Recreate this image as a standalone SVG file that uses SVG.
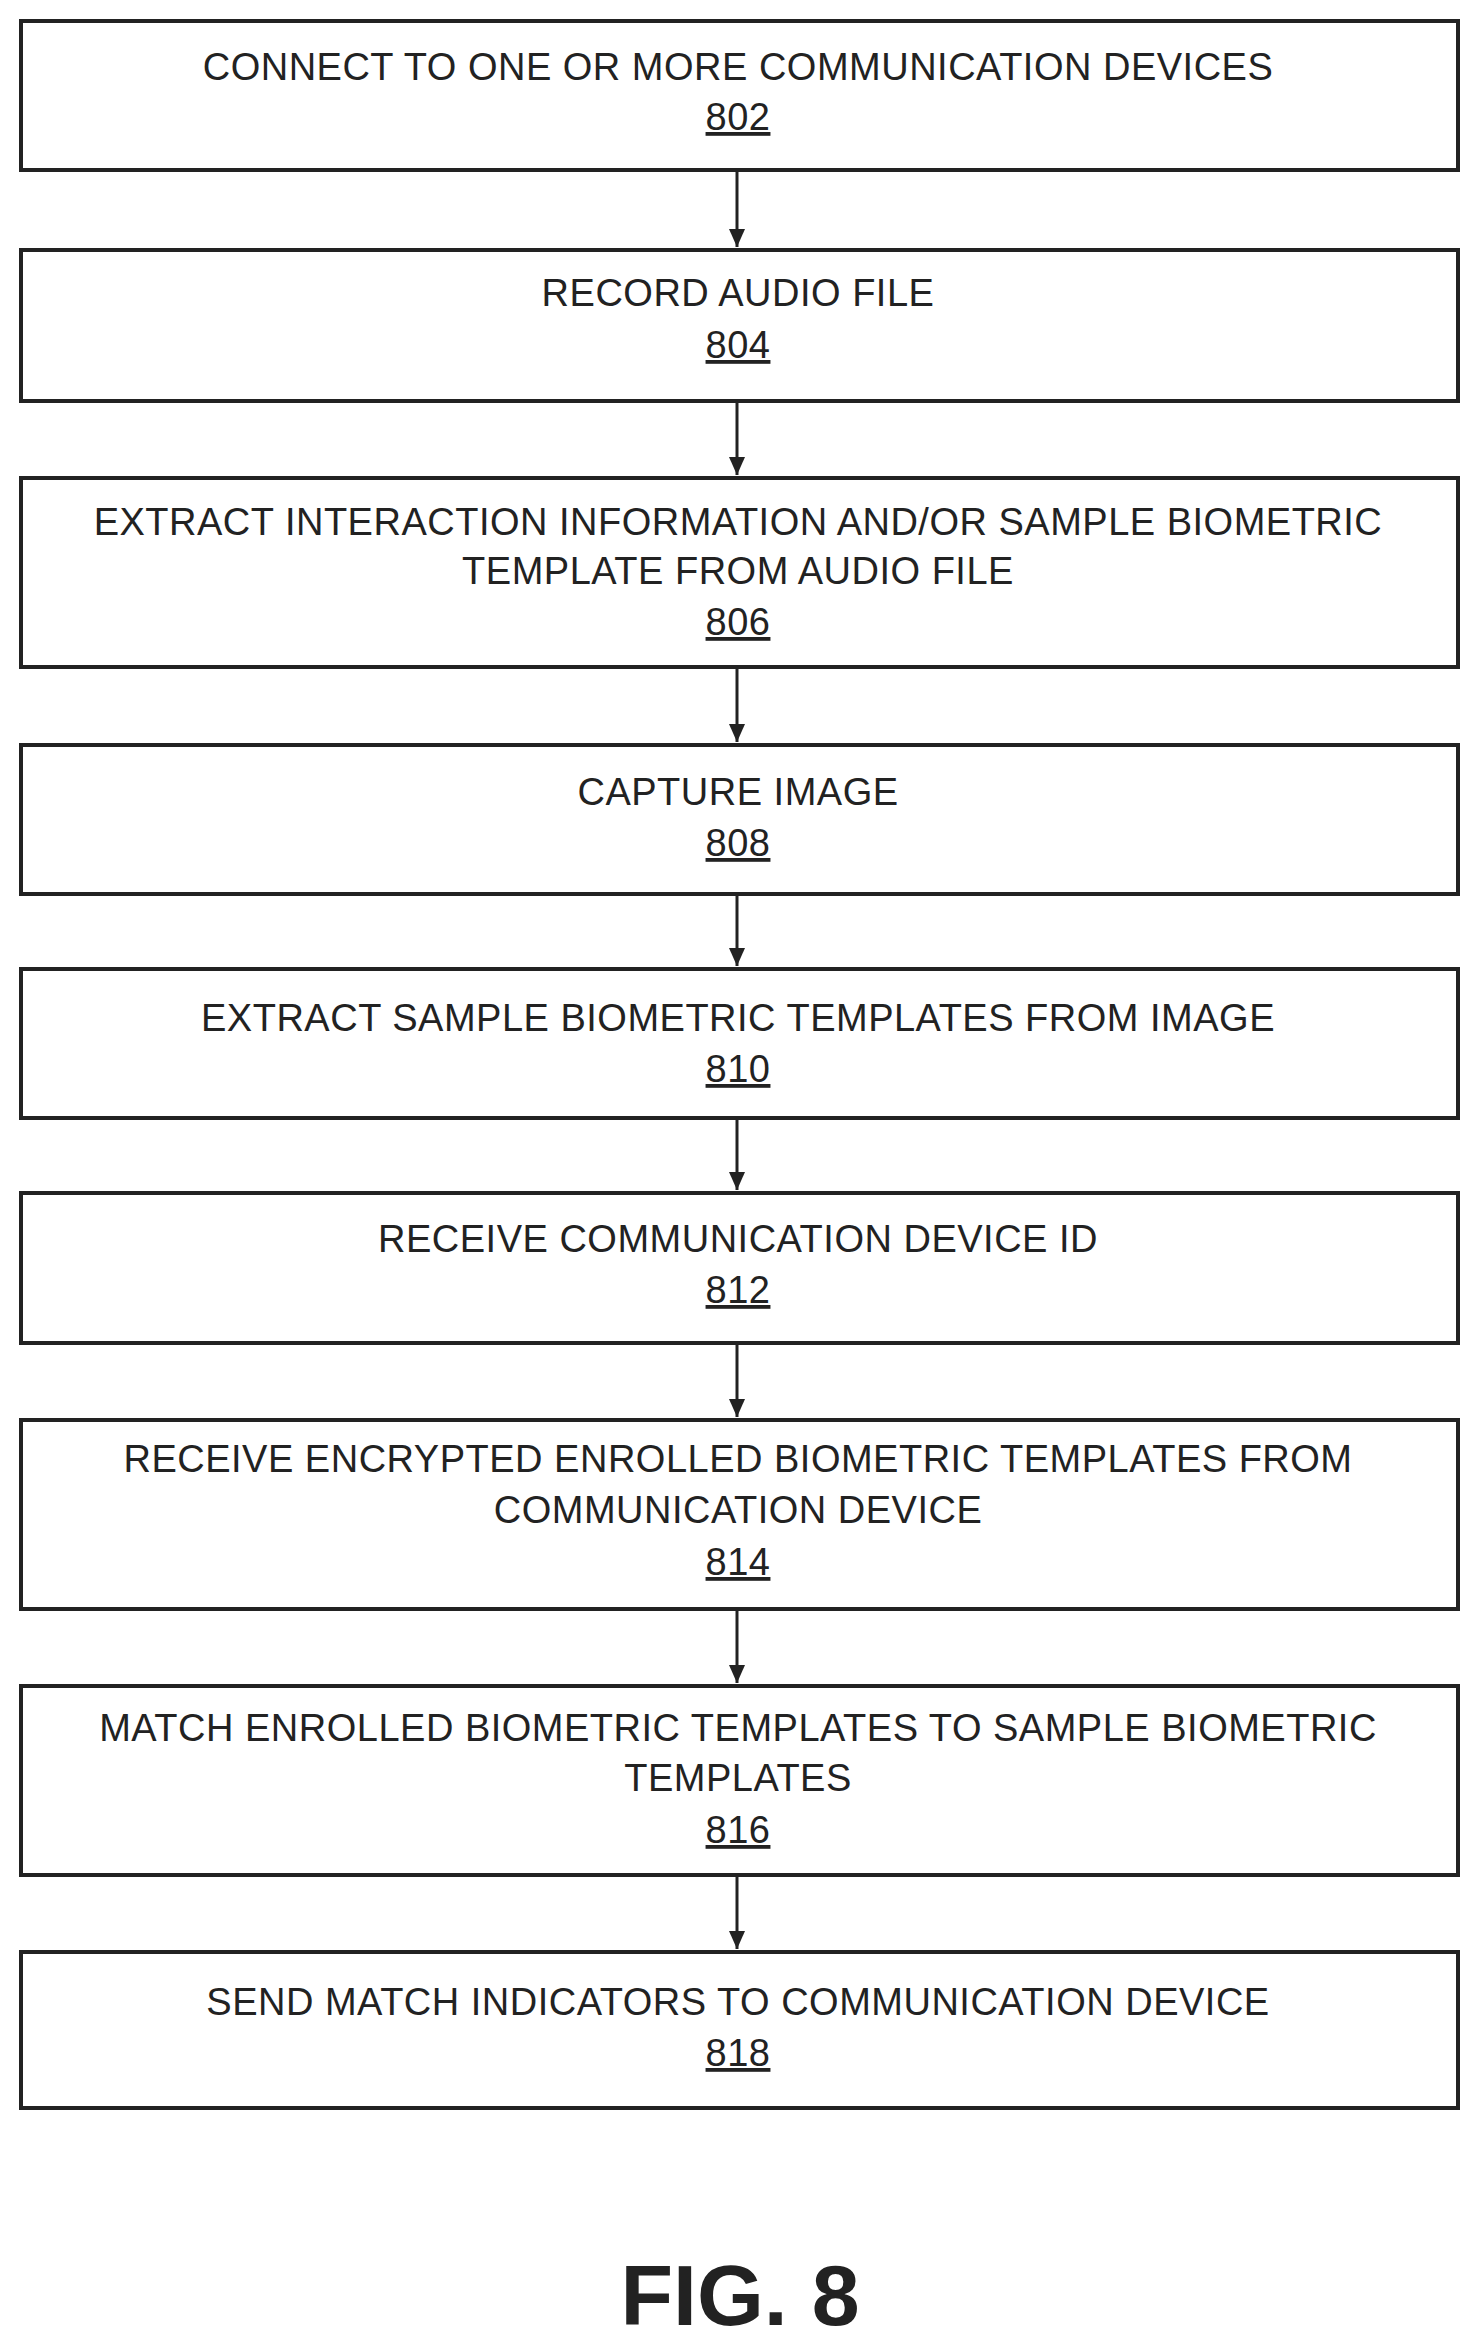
<svg xmlns="http://www.w3.org/2000/svg" width="1480" height="2344" viewBox="0 0 1480 2344">
<style>
.b{fill:#fff;stroke:#222;stroke-width:4}
.t{font-family:"Liberation Sans",Arial,sans-serif;font-size:38px;fill:#222;text-anchor:middle;letter-spacing:0.5px}
.n{text-decoration:underline}
.c{stroke:#222;stroke-width:3;fill:none}
</style>
<defs><marker id="a" markerWidth="20" markerHeight="20" refX="18" refY="10" orient="auto" markerUnits="userSpaceOnUse" viewBox="0 0 20 20"><path d="M0,2L18,10L0,18z" fill="#222"/></marker></defs>
<rect width="1480" height="2344" fill="#fff"/>
<g id="n802"><rect class="b" x="21" y="21" width="1437" height="149"/><text class="t" x="738" y="80">CONNECT TO ONE OR MORE COMMUNICATION DEVICES</text><text class="t n" x="738" y="130">802</text></g>
<g id="n804"><rect class="b" x="21" y="250" width="1437" height="151"/><text class="t" x="738" y="306">RECORD AUDIO FILE</text><text class="t n" x="738" y="358">804</text></g>
<g id="n806"><rect class="b" x="21" y="478" width="1437" height="189"/><text class="t" x="738" y="535">EXTRACT INTERACTION INFORMATION AND/OR SAMPLE BIOMETRIC</text><text class="t" x="738" y="584">TEMPLATE FROM AUDIO FILE</text><text class="t n" x="738" y="635">806</text></g>
<g id="n808"><rect class="b" x="21" y="745" width="1437" height="149"/><text class="t" x="738" y="805">CAPTURE IMAGE</text><text class="t n" x="738" y="856">808</text></g>
<g id="n810"><rect class="b" x="21" y="969" width="1437" height="149"/><text class="t" x="738" y="1031">EXTRACT SAMPLE BIOMETRIC TEMPLATES FROM IMAGE</text><text class="t n" x="738" y="1082">810</text></g>
<g id="n812"><rect class="b" x="21" y="1193" width="1437" height="150"/><text class="t" x="738" y="1252">RECEIVE COMMUNICATION DEVICE ID</text><text class="t n" x="738" y="1303">812</text></g>
<g id="n814"><rect class="b" x="21" y="1420" width="1437" height="189"/><text class="t" x="738" y="1472">RECEIVE ENCRYPTED ENROLLED BIOMETRIC TEMPLATES FROM</text><text class="t" x="738" y="1523">COMMUNICATION DEVICE</text><text class="t n" x="738" y="1575">814</text></g>
<g id="n816"><rect class="b" x="21" y="1686" width="1437" height="189"/><text class="t" x="738" y="1741">MATCH ENROLLED BIOMETRIC TEMPLATES TO SAMPLE BIOMETRIC</text><text class="t" x="738" y="1791">TEMPLATES</text><text class="t n" x="738" y="1843">816</text></g>
<g id="n818"><rect class="b" x="21" y="1952" width="1437" height="156"/><text class="t" x="738" y="2015">SEND MATCH INDICATORS TO COMMUNICATION DEVICE</text><text class="t n" x="738" y="2066">818</text></g>
<g id="connectors">
<line class="c" x1="737" y1="172" x2="737" y2="247" marker-end="url(#a)"/>
<line class="c" x1="737" y1="403" x2="737" y2="475" marker-end="url(#a)"/>
<line class="c" x1="737" y1="669" x2="737" y2="742" marker-end="url(#a)"/>
<line class="c" x1="737" y1="896" x2="737" y2="966" marker-end="url(#a)"/>
<line class="c" x1="737" y1="1120" x2="737" y2="1190" marker-end="url(#a)"/>
<line class="c" x1="737" y1="1345" x2="737" y2="1417" marker-end="url(#a)"/>
<line class="c" x1="737" y1="1611" x2="737" y2="1683" marker-end="url(#a)"/>
<line class="c" x1="737" y1="1877" x2="737" y2="1949" marker-end="url(#a)"/>
</g>
<text x="740" y="2325" font-family="Liberation Sans,Arial,sans-serif" font-size="86" font-weight="bold" text-anchor="middle" fill="#222">FIG. 8</text>
</svg>
